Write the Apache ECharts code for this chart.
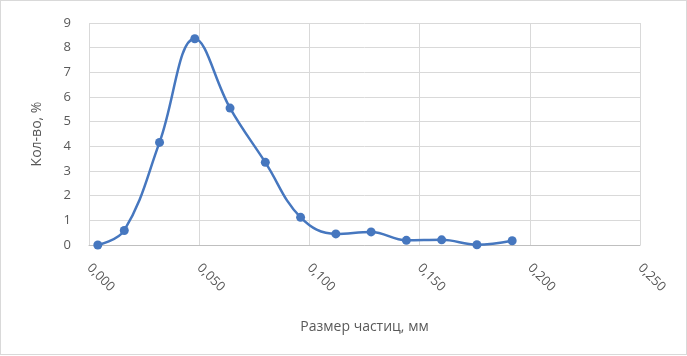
<!DOCTYPE html>
<html><head><meta charset="utf-8">
<script src="https://cdn.jsdelivr.net/npm/echarts@6/dist/echarts.min.js"></script>
<style>
html,body{margin:0;padding:0;background:#fff;}
#frame{position:absolute;left:0;top:0;width:685px;height:353px;border:1px solid #d9d9d9;}
#chart{position:absolute;left:0;top:0;width:687px;height:356px;}
</style></head>
<body>
<div id="frame"></div>
<div id="chart"></div>
<script>
const sizes = [0.004, 0.016, 0.032, 0.048, 0.064, 0.080, 0.096, 0.112, 0.128, 0.144, 0.160, 0.176, 0.192];
const amounts = [0.0, 0.59, 4.16, 8.36, 5.55, 3.35, 1.12, 0.45, 0.53, 0.19, 0.21, 0.01, 0.17];
const xAxisTitle = 'Размер частиц, мм';
const yAxisTitle = 'Кол-во, %';

const chart = echarts.init(document.getElementById('chart'));
const font = '"Open Sans", "Liberation Sans", sans-serif';
chart.setOption({
  animation: false,
  grid: {left: 89, right: 47, top: 23, bottom: 111, containLabel: false},
  xAxis: {
    type: 'value', min: 0, max: 0.25, interval: 0.05,
    name: xAxisTitle, nameLocation: 'middle', nameGap: 75,
    nameTextStyle: {color: '#595959', fontSize: 14, fontFamily: font},
    axisLine: {show: true, onZero: true, lineStyle: {color: '#bfbfbf', width: 1}},
    axisTick: {show: false},
    splitLine: {show: true, lineStyle: {color: '#d9d9d9', width: 1}},
    axisLabel: {
      rotate: -45, margin: 21, color: '#595959', fontSize: 13, fontFamily: font,
      formatter: v => v.toFixed(3).replace('.', ',')
    }
  },
  yAxis: {
    type: 'value', min: 0, max: 9, interval: 1,
    name: yAxisTitle, nameLocation: 'middle', nameGap: 45,
    nameTextStyle: {color: '#595959', fontSize: 14, fontFamily: font},
    axisLine: {show: false}, axisTick: {show: false},
    splitLine: {show: true, lineStyle: {color: '#d9d9d9', width: 1}},
    axisLabel: {color: '#595959', fontSize: 13, fontFamily: font, margin: 18}
  },
  series: [{
    type: 'line',
    data: sizes.map((s, i) => [s, amounts[i]]),
    smooth: 0.4,
    symbol: 'circle', symbolSize: 9,
    lineStyle: {color: '#4677BF', width: 2.5},
    itemStyle: {color: '#4677BF'}
  }]
});
</script>
</body></html>
